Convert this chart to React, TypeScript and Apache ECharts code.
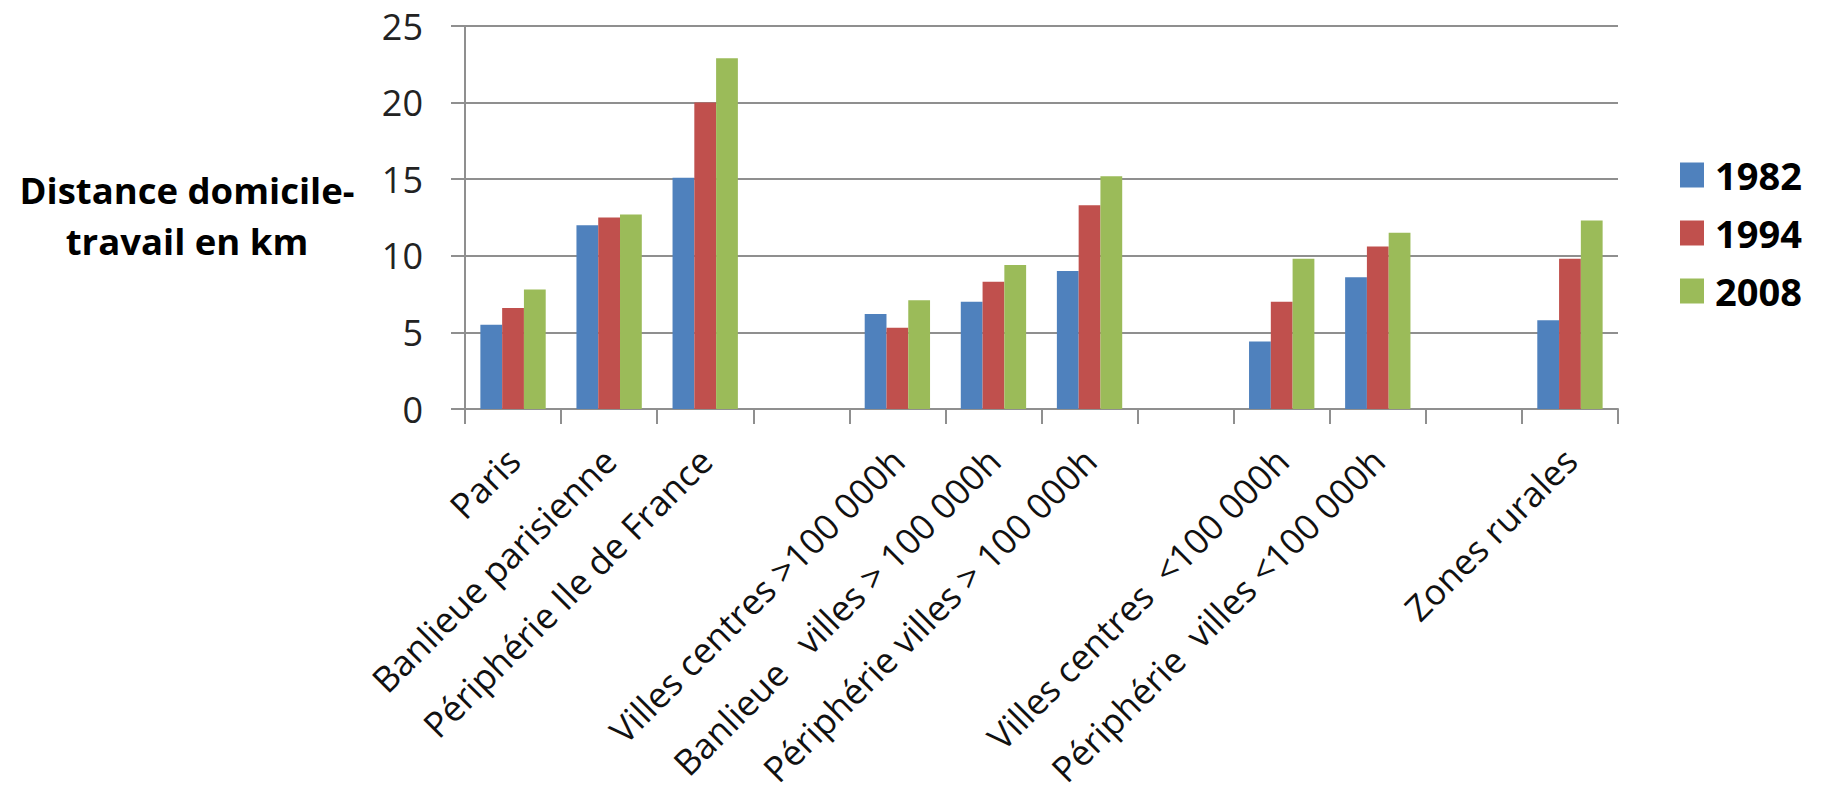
import React, { useEffect, useRef } from "react";
import * as echarts from "echarts";

const categories = [
  "Paris",
  "Banlieue parisienne",
  "Périphérie Ile de France",
  " ",
  "Villes centres >100 000h",
  "Banlieue   villes > 100 000h",
  "Périphérie villes > 100 000h",
  "  ",
  "Villes centres  <100 000h",
  "Périphérie  villes <100 000h",
  "   ",
  "Zones rurales",
];
const seriesNames = ["1982", "1994", "2008"];
const values1982 = [5.5, 12.0, 15.1, null, 6.2, 7.0, 9.0, null, 4.4, 8.6, null, 5.8];
const values1994 = [6.6, 12.5, 20.0, null, 5.3, 8.3, 13.3, null, 7.0, 10.6, null, 9.8];
const values2008 = [7.8, 12.7, 22.9, null, 7.1, 9.4, 15.2, null, 9.8, 11.5, null, 12.3];
const colors = ["#4F81BD", "#C0504D", "#9BBB59"];
const yMin = 0;
const yMax = 25;
const yInterval = 5;
const axisTitle = "Distance domicile-\ntravail en km";

const FONT = "'Open Sans', 'Liberation Sans', sans-serif";
const GRID_COLOR = "#8f8f8f";

export default function App() {
  const ref = useRef<HTMLDivElement>(null);
  useEffect(() => {
    if (!ref.current) return;
    const chart = echarts.init(ref.current, null, { renderer: "svg" });
    const allValues = [values1982, values1994, values2008];
    chart.setOption({
      animation: false,
      backgroundColor: "#ffffff",
      textStyle: { fontFamily: FONT },
      grid: {
        left: 465,
        right: 205,
        top: 26,
        bottom: 390,
        containLabel: false,
        outerBoundsMode: "none",
      },
      legend: {
        orient: "vertical",
        left: 1680,
        top: 153,
        padding: 0,
        itemWidth: 24,
        itemHeight: 25,
        itemGap: 14,
        icon: "rect",
        data: seriesNames,
        textStyle: {
          fontFamily: FONT,
          fontSize: 38,
          fontWeight: "bold",
          color: "#000",
          lineHeight: 44,
          padding: [0, 0, 0, 6],
        },
      },
      graphic: [
        {
          type: "text",
          x: 187,
          y: 215,
          style: {
            text: axisTitle,
            align: "center",
            verticalAlign: "middle",
            fontFamily: FONT,
            fontSize: 36.5,
            fontWeight: "bold",
            lineHeight: 51,
            fill: "#000",
          },
        },
      ],
      xAxis: {
        type: "category",
        data: categories,
        boundaryGap: true,
        axisLine: { show: true, lineStyle: { color: GRID_COLOR, width: 2 } },
        axisTick: { show: true, length: 15, lineStyle: { color: GRID_COLOR, width: 2 } },
        axisLabel: {
          interval: 0,
          rotate: 45,
          margin: 45,
          fontFamily: FONT,
          fontSize: 35.5,
          color: "#111",
        },
      },
      yAxis: {
        type: "value",
        min: yMin,
        max: yMax,
        interval: yInterval,
        axisLine: { show: true, lineStyle: { color: GRID_COLOR, width: 2 } },
        axisTick: { show: true, length: 14, lineStyle: { color: GRID_COLOR, width: 2 } },
        splitLine: { show: true, lineStyle: { color: GRID_COLOR, width: 2 } },
        axisLabel: {
          margin: 42,
          fontFamily: FONT,
          fontSize: 36,
          color: "#222",
        },
      },
      series: seriesNames.map((name, i) => ({
        name,
        type: "bar",
        data: allValues[i],
        barGap: "0%",
        barCategoryGap: "32%",
        itemStyle: { color: colors[i] },
      })),
    });
    return () => chart.dispose();
  }, []);
  return (
    <div
      ref={ref}
      style={{ position: "fixed", left: 0, top: 0, width: 1823, height: 799, background: "#fff" }}
    />
  );
}
